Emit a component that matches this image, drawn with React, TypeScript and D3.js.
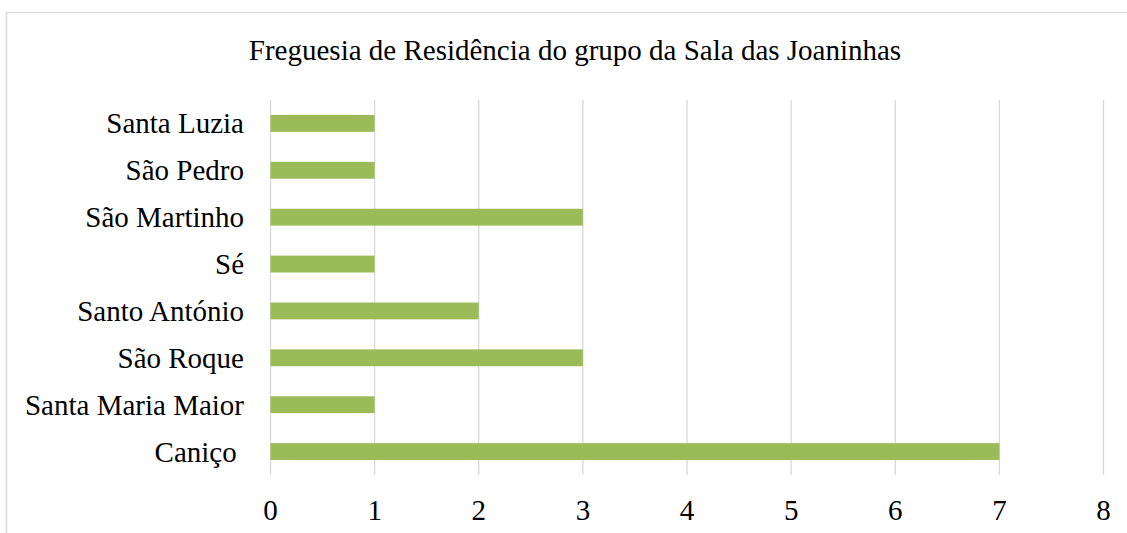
import React from "react";
import * as d3 from "d3";

const categories = [
  "Santa Luzia",
  "São Pedro",
  "São Martinho",
  "Sé",
  "Santo António",
  "São Roque",
  "Santa Maria Maior",
  "Caniço ",
];
const values = [1, 1, 3, 1, 2, 3, 1, 7];
const xTicks = [0, 1, 2, 3, 4, 5, 6, 7, 8];
const title = "Freguesia de Residência do grupo da Sala das Joaninhas";

const W = 1127;
const H = 533;
const FONT = "'Liberation Serif', 'DejaVu Serif', serif";

export default function App() {
  const x = d3.scaleLinear().domain([0, 8]).range([270.5, 1103.5]);
  const y = d3
    .scaleBand<string>()
    .domain(categories)
    .range([100, 475])
    .paddingInner(0.64)
    .paddingOuter(0.32);

  return (
    <svg
      width={W}
      height={H}
      style={{ position: "fixed", left: 0, top: 0, background: "#fff" }}
    >
      <rect x={0} y={0} width={W} height={H} fill="#fff" />
      <rect
        x={6.5}
        y={12.5}
        width={1300}
        height={700}
        fill="#fff"
        stroke="#d9d9d9"
        strokeWidth={1.5}
      />
      <text
        x={575}
        y={60}
        textAnchor="middle"
        fontFamily={FONT}
        fontSize={29}
        fill="#000"
      >
        {title}
      </text>
      {xTicks.map((t) => (
        <line
          key={"g" + t}
          x1={x(t)}
          x2={x(t)}
          y1={100}
          y2={475}
          stroke="#d9d9d9"
          strokeWidth={1.3}
        />
      ))}
      {categories.map((c, i) => (
        <rect
          key={"b" + c}
          x={x(0)}
          y={y(c)!}
          width={x(values[i]) - x(0)}
          height={y.bandwidth()}
          fill="#9bbb59"
        />
      ))}
      {categories.map((c) => (
        <text
          key={"l" + c}
          x={244}
          y={y(c)! + y.bandwidth() / 2 + 10}
          textAnchor="end"
          fontFamily={FONT}
          fontSize={29}
          fill="#000"
          style={{ whiteSpace: "pre" }}
        >
          {c}
        </text>
      ))}
      {xTicks.map((t) => (
        <text
          key={"t" + t}
          x={x(t)}
          y={519.5}
          textAnchor="middle"
          fontFamily={FONT}
          fontSize={29}
          fill="#000"
        >
          {t}
        </text>
      ))}
    </svg>
  );
}
